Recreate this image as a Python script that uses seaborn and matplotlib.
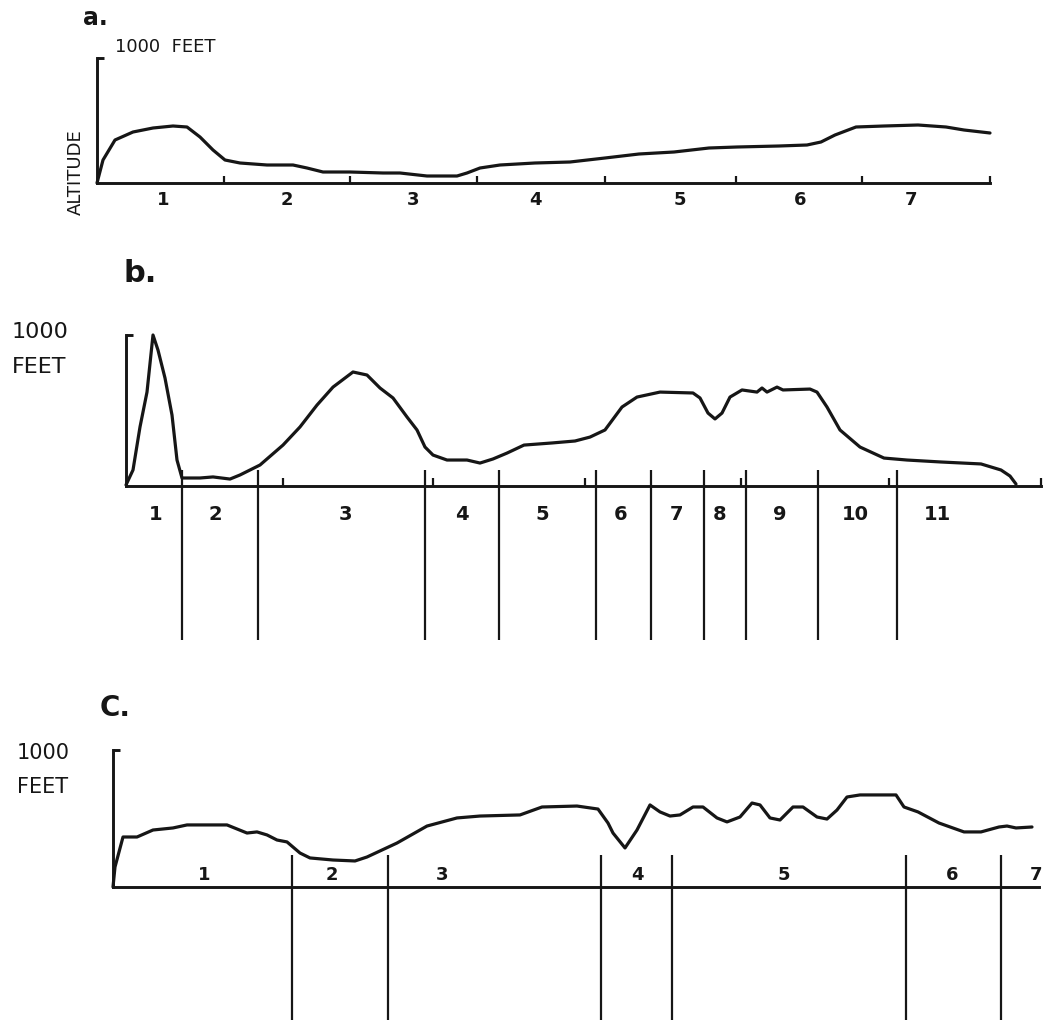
import matplotlib
matplotlib.use("Agg")
import matplotlib.pyplot as plt
import seaborn as sns

sns.set_style("white")
plt.rcParams['font.family'] = ['DejaVu Sans']

W, H = 1044, 1030
INK = "#161616"

# ---------------- Panel a ----------------
a_dist = [0, 0.6, 1.8, 3.6, 5.6, 7.6, 9.0, 10.3, 11.6, 12.8, 14.3, 17.0, 19.6, 21.0,
          22.6, 25.3, 28.6, 30.3, 33.0, 36.0, 37.0, 38.3, 40.3, 43.8, 47.3, 50.8,
          54.2, 57.7, 61.2, 64.0, 68.2, 71.0, 72.4, 73.8, 75.9, 78.7, 82.1, 84.9,
          86.7, 89.3]
a_alt = [0, 184, 344, 408, 440, 456, 448, 368, 264, 184, 160, 144, 144, 120,
         88, 88, 80, 80, 56, 56, 80, 120, 144, 160, 168, 200,
         232, 248, 280, 288, 296, 304, 328, 384, 448, 456, 464, 448,
         424, 400]
a_ticks = [12.7, 25.3, 38.0, 50.8, 63.9, 76.5, 89.3]
a_label_pos = [6.6, 19.0, 31.6, 43.8, 58.3, 70.3, 81.4]
a_labels = ["1", "2", "3", "4", "5", "6", "7"]

# ---------------- Panel b ----------------
b_dist = [0, 0.7, 1.4, 2.1, 2.7, 3.2, 3.9, 4.6, 5.1, 5.6, 7.4, 8.7, 10.4, 11.4,
          13.4, 15.7, 17.4, 19.1, 20.7, 22.7, 24.1, 25.4, 26.7, 28.1, 29.1, 29.9,
          30.7, 32.1, 34.1, 35.4, 36.7, 38.1, 39.8, 42.6, 44.9, 46.4, 47.9, 49.6,
          51.1, 53.4, 56.7, 57.4, 58.2, 58.9, 59.6, 60.4, 61.6, 63.1, 63.6, 64.1,
          65.1, 65.7, 68.4, 69.1, 70.1, 71.4, 73.4, 75.8, 78.1, 81.5, 85.5, 87.5,
          88.4, 89.0]
b_alt = [7, 106, 391, 622, 1000, 900, 715, 470, 172, 53, 53, 60, 46, 73,
         139, 271, 391, 536, 655, 755, 735, 649, 583, 457, 371, 258,
         205, 172, 172, 152, 179, 218, 271, 285, 298, 324, 371, 523,
         589, 622, 616, 583, 483, 444, 483, 589, 636, 622, 649, 622,
         655, 636, 642, 622, 523, 371, 258, 185, 172, 159, 146, 106,
         66, 13]
b_ticks = [15.7, 30.7, 45.9, 61.5, 76.3, 91.5]
b_dividers = [5.6, 13.2, 29.9, 37.3, 47.0, 52.5, 57.8, 62.0, 69.2, 77.1]
b_label_pos = [3.0, 8.9, 21.9, 33.6, 41.6, 49.5, 55.1, 59.4, 65.4, 72.9, 81.1]
b_labels = ["1", "2", "3", "4", "5", "6", "7", "8", "9", "10", "11"]

# ---------------- Panel c ----------------
c_dist = [0, 0.2, 1.0, 2.4, 4.0, 6.0, 7.4, 11.4, 13.4, 14.4, 15.4, 16.4, 17.4,
          18.7, 19.7, 22.0, 24.2, 25.4, 28.4, 31.4, 34.4, 36.7, 40.7, 42.9, 46.4,
          48.5, 49.5, 50.0, 51.2, 52.4, 53.7, 54.7, 55.7, 56.7, 58.0, 59.0, 60.4,
          61.4, 62.7, 63.9, 64.7, 65.7, 66.7, 68.0, 69.0, 70.4, 71.4, 72.4, 73.4,
          74.7, 78.3, 79.1, 80.5, 82.6, 85.1, 86.8, 88.6, 89.4, 90.3, 91.9]
c_alt = [0, 146, 365, 365, 416, 431, 453, 453, 394, 402, 380, 343, 329,
         248, 212, 197, 190, 219, 321, 445, 504, 518, 526, 584, 591,
         569, 467, 394, 285, 416, 599, 548, 518, 526, 584, 584, 504,
         475, 511, 613, 599, 504, 489, 584, 584, 511, 496, 562, 657,
         672, 672, 584, 548, 467, 402, 402, 438, 445, 431, 438]
c_dividers = [17.9, 27.5, 48.8, 55.9, 79.3, 88.8]
c_label_pos = [9.1, 21.9, 32.9, 52.4, 67.1, 83.9, 92.3]
c_labels = ["1", "2", "3", "4", "5", "6", "7"]

fig = plt.figure(figsize=(W / 100, H / 100), dpi=100)
fig.patch.set_facecolor("white")


def px_axes(L, R, T, B):
    return fig.add_axes([L / W, 1 - B / H, (R - L) / W, (B - T) / H])


def style(ax, xmax, xend, ticks, tick_len):
    ax.set_facecolor("none")
    ax.set_xlim(0, xmax)
    ax.set_ylim(0, 1000)
    for s in ["top", "right"]:
        ax.spines[s].set_visible(False)
    ax.spines["left"].set_bounds(0, 1000)
    ax.spines["bottom"].set_bounds(0, xend)
    for s in ["left", "bottom"]:
        ax.spines[s].set_linewidth(2.1)
        ax.spines[s].set_color(INK)
    ax.set_yticks([1000])
    ax.set_yticklabels([])
    ax.tick_params(axis="y", left=True, direction="in", length=5, width=2.1,
                   color=INK)
    ax.set_xticks(ticks)
    ax.set_xticklabels([])
    ax.tick_params(axis="x", bottom=True, direction="in", length=tick_len,
                   width=1.6, color=INK)
    ax.set_xlabel("")
    ax.set_ylabel("")


line_kw = dict(color=INK, linewidth=2.3, estimator=None, clip_on=False,
               solid_joinstyle="round", solid_capstyle="round")
lab_kw = dict(color=INK, fontsize=13, fontweight="bold", ha="center", va="center")

# ---- a ----
axa = px_axes(97, 1000, 58, 183)
sns.lineplot(x=a_dist, y=a_alt, ax=axa, **line_kw)
style(axa, 90.3, 89.3, a_ticks, 5)
for p, t in zip(a_label_pos, a_labels):
    axa.text(p, -136, t, clip_on=False, **lab_kw)
fig.text(83 / W, 1 - 18 / H, "a.", fontsize=17, fontweight="bold", color=INK,
         ha="left", va="center")
fig.text(115 / W, 1 - 47 / H, "1000  FEET", fontsize=13, color=INK,
         ha="left", va="center")
fig.text(76 / W, 1 - 172 / H, "ALTITUDE", fontsize=13, color=INK, rotation=90,
         ha="center", va="center")

# ---- b ----
axb = px_axes(126, 1045, 335, 486)
sns.lineplot(x=b_dist, y=b_alt, ax=axb, **line_kw)
style(axb, 91.9, 91.5, b_ticks, 6)
axb.vlines(b_dividers, -1020, 106, colors=INK, linewidth=1.6, clip_on=False)
for p, t in zip(b_label_pos, b_labels):
    axb.text(p, -192, t, clip_on=False, **{**lab_kw, "fontsize": 14})
fig.text(123 / W, 1 - 273 / H, "b.", fontsize=22, fontweight="bold", color=INK,
         ha="left", va="center")
fig.text(12 / W, 1 - 332 / H, "1000", fontsize=16, color=INK, ha="left", va="center")
fig.text(12 / W, 1 - 367 / H, "FEET", fontsize=16, color=INK, ha="left", va="center")

# ---- c ----
axc = px_axes(113, 1045, 750, 887)
sns.lineplot(x=c_dist, y=c_alt, ax=axc, **line_kw)
style(axc, 93.2, 92.6, [], 0)
axc.vlines(c_dividers, -971, 234, colors=INK, linewidth=1.6, clip_on=False)
for p, t in zip(c_label_pos, c_labels):
    axc.text(p, 85, t, clip_on=False, **lab_kw)
fig.text(100 / W, 1 - 708 / H, "C.", fontsize=20, fontweight="bold", color=INK,
         ha="left", va="center")
fig.text(17 / W, 1 - 753 / H, "1000", fontsize=15, color=INK, ha="left", va="center")
fig.text(17 / W, 1 - 787 / H, "FEET", fontsize=15, color=INK, ha="left", va="center")

fig.savefig("out.png", dpi=100, facecolor="white")
